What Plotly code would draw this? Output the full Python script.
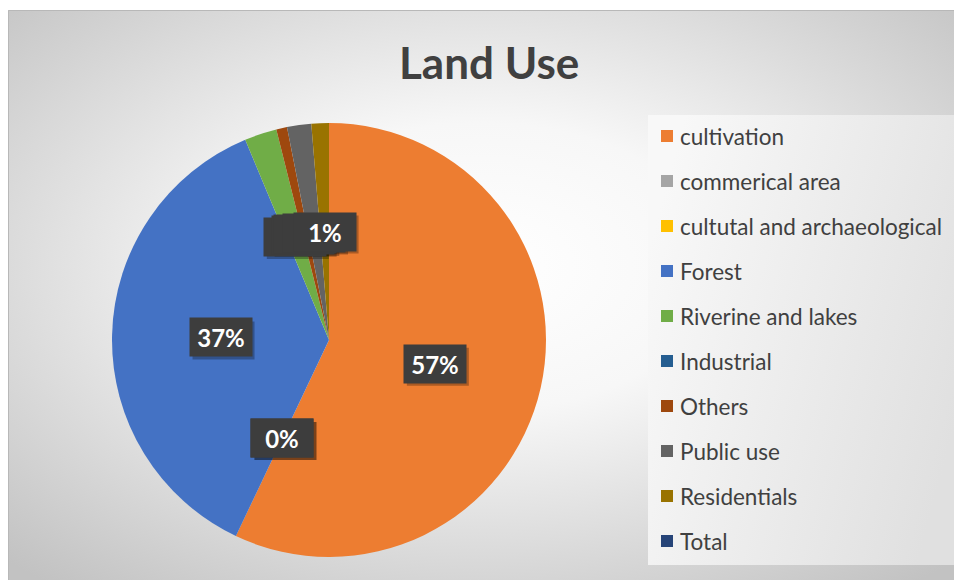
import base64
import math

import plotly.graph_objects as go

# ---- data -------------------------------------------------------------
categories = [
    "cultivation",
    "commerical area",
    "cultutal and archaeological",
    "Forest",
    "Riverine and lakes",
    "Industrial",
    "Others",
    "Public use",
    "Residentials",
    "Total",
]
shares = [57.0, 0.0, 0.0, 36.6, 2.4, 0.0, 0.8, 1.8, 1.3, None]
colors = [
    "#ED7D31", "#A5A5A5", "#FFC000", "#4472C4", "#70AD47",
    "#255E91", "#9E480E", "#636363", "#997300", "#264478",
]
title_text = "Land Use"

# ---- layout constants (pixels) ---------------------------------------
W, H = 954, 580
CX, CY, R = 329, 340, 217          # pie centre and radius
FONT = "Lato"
TEXT_COLOR = "#404040"
BOX_W, BOX_H, BOX_PAD = 52, 28, 5  # data-label box (inner size + padding)


def px(x):
    return x / W


def py(y):
    return 1 - y / H


def svg_uri(svg):
    return "data:image/svg+xml;base64," + base64.b64encode(svg.encode()).decode()


chart_bg = svg_uri(
    '<svg xmlns="http://www.w3.org/2000/svg" width="946" height="570" preserveAspectRatio="none">'
    '<defs><radialGradient id="g" cx="0.5" cy="0.45" r="0.72">'
    '<stop offset="0" stop-color="#ffffff"/>'
    '<stop offset="0.35" stop-color="#f7f7f7"/>'
    '<stop offset="1" stop-color="#c2c2c2"/>'
    '</radialGradient></defs>'
    '<rect width="946" height="570" fill="url(#g)"/></svg>'
)
legend_bg = svg_uri(
    '<svg xmlns="http://www.w3.org/2000/svg" width="306" height="450" preserveAspectRatio="none">'
    '<defs><linearGradient id="l" x1="0" y1="0.3" x2="1" y2="0.7">'
    '<stop offset="0" stop-color="#f8f8f8"/>'
    '<stop offset="1" stop-color="#e0e0e0"/>'
    '</linearGradient></defs>'
    '<rect width="306" height="450" fill="url(#l)"/></svg>'
)

values = [v if v is not None else 0 for v in shares]
total = sum(values)

fig = go.Figure(
    go.Pie(
        labels=categories,
        values=values,
        sort=False,
        direction="clockwise",
        rotation=0,
        marker=dict(colors=colors, line=dict(width=0)),
        textinfo="none",
        hoverinfo="label+percent",
        showlegend=False,
        domain=dict(
            x=[px(CX - R), px(CX + R)],
            y=[py(CY + R), py(CY - R)],
        ),
    )
)

annotations = []
shapes = []

# title
annotations.append(dict(
    x=px(489), y=py(62), xref="paper", yref="paper",
    text=title_text, showarrow=False, xanchor="center", yanchor="middle",
    font=dict(family=FONT, size=44, color=TEXT_COLOR, weight="bold"),
))

# percentage labels at half radius on each slice's mid-angle
half_w = BOX_W / 2 + BOX_PAD
half_h = BOX_H / 2 + BOX_PAD
start = 0.0
for name, v in zip(categories, shares):
    sweep = (v or 0) / total * 360.0
    if v is not None:
        mid = math.radians(start + sweep / 2)
        lx = CX + 0.5 * R * math.sin(mid)
        ly = CY - 0.5 * R * math.cos(mid)
        label = f"{round(v / total * 100)}%"
        # drop shadow behind the label box
        shapes.append(dict(
            type="rect", xref="paper", yref="paper",
            x0=px(lx - half_w + 3), x1=px(lx + half_w + 3),
            y0=py(ly + half_h + 3), y1=py(ly - half_h + 3),
            fillcolor="rgba(0,0,0,0.28)", line=dict(width=0), layer="above",
        ))
        annotations.append(dict(
            x=px(lx), y=py(ly), text=label,
            xref="paper", yref="paper", showarrow=False,
            xanchor="center", yanchor="middle",
            width=BOX_W, height=BOX_H, borderpad=BOX_PAD,
            bgcolor="#3d3d3d",
            font=dict(family=FONT, size=24, color="#ffffff", weight="bold"),
        ))
    start += sweep

# legend entries
for i, (name, c) in enumerate(zip(categories, colors)):
    yc = 136 + 45 * i
    shapes.append(dict(
        type="rect", xref="paper", yref="paper",
        x0=px(661), x1=px(673), y0=py(yc + 6), y1=py(yc - 6),
        fillcolor=c, line=dict(width=0), layer="above",
    ))
    annotations.append(dict(
        x=px(678), y=py(yc), xref="paper", yref="paper",
        text=name, showarrow=False, xanchor="left", yanchor="middle",
        font=dict(family=FONT, size=22.5, color=TEXT_COLOR),
    ))

# chart area border
shapes.append(dict(
    type="rect", xref="paper", yref="paper",
    x0=px(8.5), x1=px(W + 10), y0=py(H + 10), y1=py(10.5),
    line=dict(color="#b8b8b8", width=1), fillcolor="rgba(0,0,0,0)", layer="below",
))

fig.update_layout(
    width=W,
    height=H,
    margin=dict(l=0, r=0, t=0, b=0),
    paper_bgcolor="#ffffff",
    plot_bgcolor="rgba(0,0,0,0)",
    annotations=annotations,
    shapes=shapes,
    images=[
        dict(source=chart_bg, xref="paper", yref="paper",
             x=px(8), y=py(10), sizex=px(W - 8), sizey=(H - 10) / H,
             xanchor="left", yanchor="top", sizing="stretch", layer="below"),
        dict(source=legend_bg, xref="paper", yref="paper",
             x=px(648), y=py(115), sizex=px(W - 648), sizey=(565 - 115) / H,
             xanchor="left", yanchor="top", sizing="stretch", layer="below"),
    ],
)

fig.write_html("out.html")
